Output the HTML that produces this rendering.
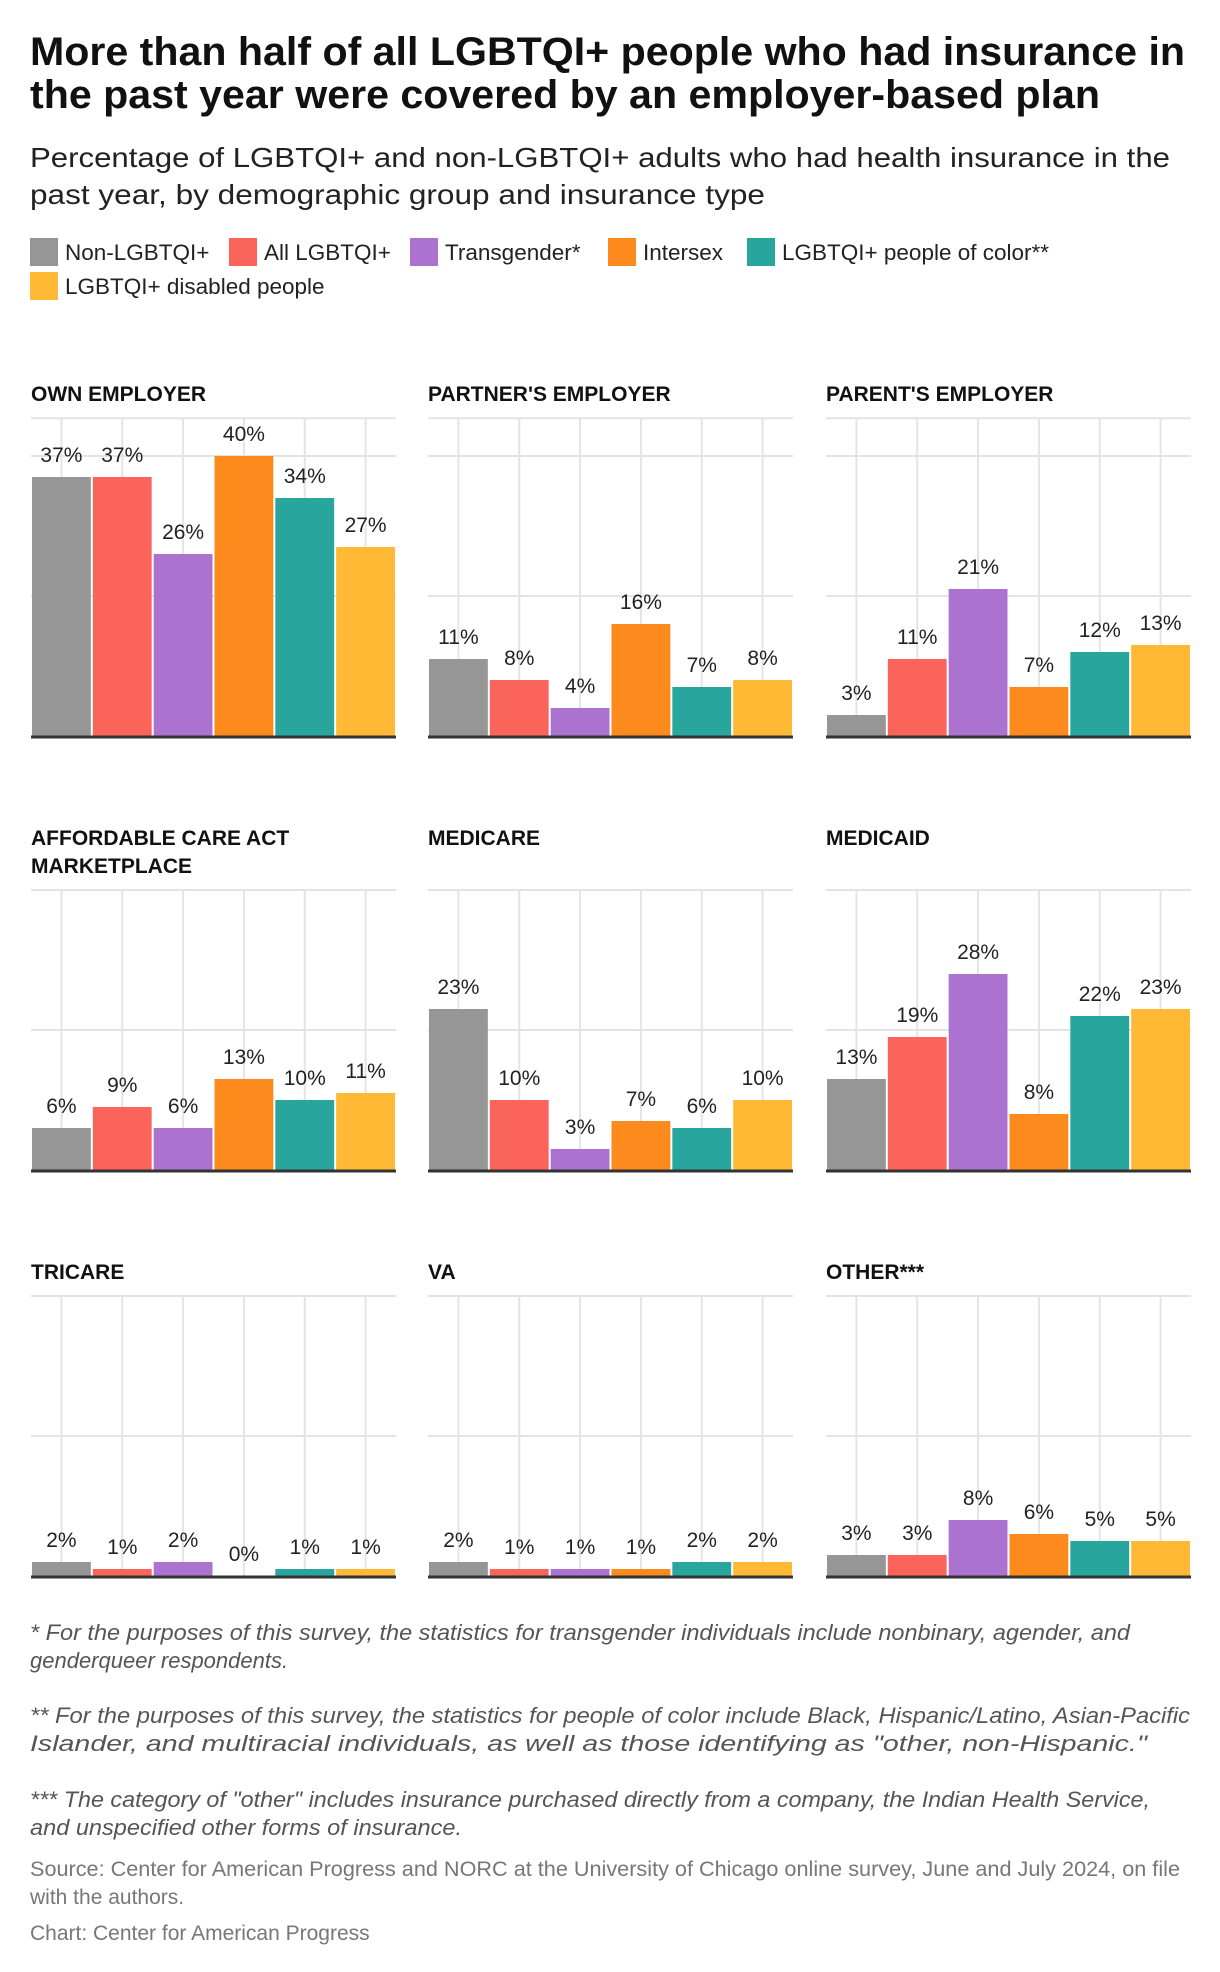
<!DOCTYPE html>
<html><head><meta charset="utf-8"><style>
body{margin:0;background:#fff;width:1220px;height:1972px;overflow:hidden;font-family:"Liberation Sans",sans-serif;}
svg{display:block}
</style></head><body>
<svg id="c" width="1220" height="1972" xmlns="http://www.w3.org/2000/svg" font-family="Liberation Sans, sans-serif">
<g>
<text x="30" y="65" font-size="40" font-weight="bold" fill="#111" textLength="1155" lengthAdjust="spacingAndGlyphs">More than half of all LGBTQI+ people who had insurance in</text>
<text x="30" y="108" font-size="40" font-weight="bold" fill="#111" textLength="1070" lengthAdjust="spacingAndGlyphs">the past year were covered by an employer-based plan</text>
<text x="30" y="167" font-size="28" fill="#222" textLength="1140" lengthAdjust="spacingAndGlyphs">Percentage of LGBTQI+ and non-LGBTQI+ adults who had health insurance in the</text>
<text x="30" y="204" font-size="28" fill="#222" textLength="735" lengthAdjust="spacingAndGlyphs">past year, by demographic group and insurance type</text>
</g>
<g id="legend"></g>
<g id="panels"></g>
<g font-size="22" fill="#555" font-style="italic">
<text x="30" y="1640" textLength="1100" lengthAdjust="spacingAndGlyphs">* For the purposes of this survey, the statistics for transgender individuals include nonbinary, agender, and</text>
<text x="30" y="1668">genderqueer respondents.</text>
<text x="30" y="1723" textLength="1160" lengthAdjust="spacingAndGlyphs">** For the purposes of this survey, the statistics for people of color include Black, Hispanic/Latino, Asian-Pacific</text>
<text x="30" y="1751" textLength="1117" lengthAdjust="spacingAndGlyphs">Islander, and multiracial individuals, as well as those identifying as "other, non-Hispanic."</text>
<text x="30" y="1807" textLength="1120" lengthAdjust="spacingAndGlyphs">*** The category of "other" includes insurance purchased directly from a company, the Indian Health Service,</text>
<text x="30" y="1835" textLength="432" lengthAdjust="spacingAndGlyphs">and unspecified other forms of insurance.</text>
</g>
<g font-size="21" fill="#777">
<text x="30" y="1876" textLength="1150" lengthAdjust="spacingAndGlyphs">Source: Center for American Progress and NORC at the University of Chicago online survey, June and July 2024, on file</text>
<text x="30" y="1904">with the authors.</text>
<text x="30" y="1940">Chart: Center for American Progress</text>
</g>
</svg>
<script>
const groups = ["Non-LGBTQI+","All LGBTQI+","Transgender*","Intersex","LGBTQI+ people of color**","LGBTQI+ disabled people"];
const colors = ["#969696","#fb645a","#ab73cf","#fd8a1c","#28a59c","#ffb935"];
const panelTitles = [["OWN EMPLOYER"],["PARTNER'S EMPLOYER"],["PARENT'S EMPLOYER"],["AFFORDABLE CARE ACT","MARKETPLACE"],["MEDICARE"],["MEDICAID"],["TRICARE"],["VA"],["OTHER***"]];
const ownEmployer = [37,37,26,40,34,27];
const partnerEmployer = [11,8,4,16,7,8];
const parentEmployer = [3,11,21,7,12,13];
const acaMarketplace = [6,9,6,13,10,11];
const medicare = [23,10,3,7,6,10];
const medicaid = [13,19,28,8,22,23];
const tricare = [2,1,2,0,1,1];
const va = [2,1,1,1,2,2];
const other = [3,3,8,6,5,5];
const panelValues = [ownEmployer,partnerEmployer,parentEmployer,acaMarketplace,medicare,medicaid,tricare,va,other];
const rowMax = [45.4,40,40];
const gridTicks = [20,40];

const NS="http://www.w3.org/2000/svg";
function mk(tag,attrs,parent){const e=document.createElementNS(NS,tag);for(const k in attrs)e.setAttribute(k,attrs[k]);parent.appendChild(e);return e;}

const lg=document.getElementById('legend');
const legX=[30,229,410,608,747,30], legY=[238,238,238,238,238,272];
groups.forEach((g,i)=>{
  const it=mk('g',{},lg);
  
  
  const sw=mk('rect',{x:legX[i],y:legY[i],width:28,height:28,fill:colors[i]},it);
  
  
  const t=mk('text',{x:legX[i]+35,y:legY[i]+22,'font-size':22.5,fill:'#222'},it);
  
  
  t.textContent=g;
});

const pg=document.getElementById('panels');
const colX=[31,428,826], PW=365;
const rowBase=[736,1170,1576], rowTitleY=[401,845,1279];
const pxPer=7;
panelValues.forEach((vals,p)=>{
  const r=Math.floor(p/3), c=p%3;
  const x0=colX[c], base=rowBase[r];
  const top=base-rowMax[r]*pxPer;
  const y=v=>base-v*pxPer;
  const bw=PW/groups.length;
  const g=mk('g',{},pg);
  
  
  panelTitles[p].forEach((line,li)=>{
    const t=mk('text',{x:x0,y:rowTitleY[r]+li*28,'font-size':21,'font-weight':'bold',fill:'#111'},g);
    
    
    t.textContent=line;
  });
  const hl=mk('line',{x1:x0,x2:x0+PW,y1:top,y2:top,stroke:'#e4e4e4','stroke-width':2},g);
  
  
  gridTicks.forEach(t=>{
    if(t>rowMax[r]) return;
    const l=mk('line',{x1:x0,x2:x0+PW,y1:y(t),y2:y(t),stroke:'#e4e4e4','stroke-width':2},g);
    
    
  });
  groups.forEach((_,i)=>{
    const cx=x0+bw*i+bw/2;
    const l=mk('line',{x1:cx,x2:cx,y1:top,y2:base,stroke:'#e4e4e4','stroke-width':2},g);
    
    
  });
  vals.forEach((v,i)=>{
    const bx=x0+bw*i+1;
    const b=mk('rect',{x:bx,y:y(v),width:bw-2,height:v*pxPer,fill:colors[i]},g);
    
    
    const t=mk('text',{x:x0+bw*i+bw/2,y:y(v)-15,'font-size':21,fill:'#222','text-anchor':'middle'},g);
    
    
    t.textContent=v+'%';
  });
  const ax=mk('line',{x1:x0,x2:x0+PW,y1:base+1,y2:base+1,stroke:'#333','stroke-width':3},g);
  
  
});
</script>
</body></html>
